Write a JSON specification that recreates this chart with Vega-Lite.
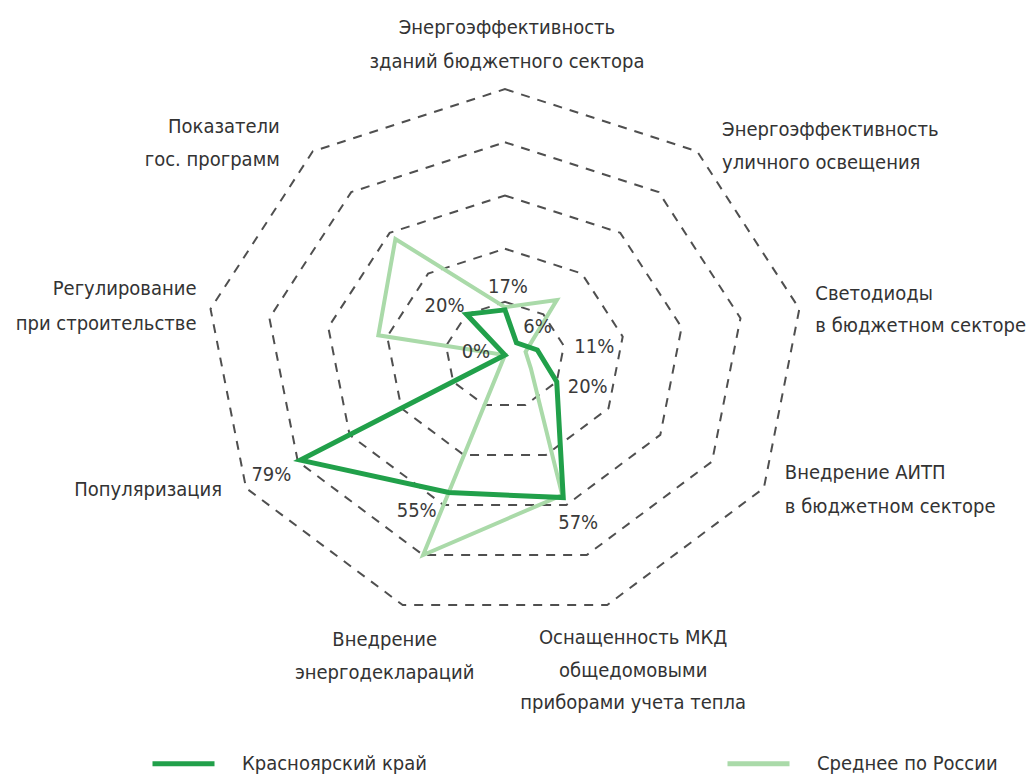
{
  "$schema": "https://vega.github.io/schema/vega-lite/v6.json",
  "width": 1035,
  "height": 774,
  "autosize": "none",
  "padding": 0,
  "background": "white",
  "config": {"view": {"stroke": null}, "font": "Liberation Sans Narrow, DejaVu Sans Condensed, Liberation Sans"},
  "datasets": {
    "axes": [
      {"k": 0, "name": "Энергоэффективность\nзданий бюджетного сектора"},
      {"k": 1, "name": "Энергоэффективность\nуличного освещения"},
      {"k": 2, "name": "Светодиоды\nв бюджетном секторе"},
      {"k": 3, "name": "Внедрение АИТП\nв бюджетном секторе"},
      {"k": 4, "name": "Оснащенность МКД\nобщедомовыми\nприборами учета тепла"},
      {"k": 5, "name": "Внедрение\nэнергодеклараций"},
      {"k": 6, "name": "Популяризация"},
      {"k": 7, "name": "Регулирование\nпри строительстве"},
      {"k": 8, "name": "Показатели\nгос. программ"}
    ],
    "rings": [
      {"level": 20, "k": [0, 1, 2, 3, 4, 5, 6, 7, 8]},
      {"level": 40, "k": [0, 1, 2, 3, 4, 5, 6, 7, 8]},
      {"level": 60, "k": [0, 1, 2, 3, 4, 5, 6, 7, 8]},
      {"level": 80, "k": [0, 1, 2, 3, 4, 5, 6, 7, 8]},
      {"level": 100, "k": [0, 1, 2, 3, 4, 5, 6, 7, 8]}
    ],
    "scores": [
      {"series": "Красноярский край", "k": 0, "axis": "Энергоэффективность зданий бюджетного сектора", "value": 17},
      {"series": "Красноярский край", "k": 1, "axis": "Энергоэффективность уличного освещения", "value": 6},
      {"series": "Красноярский край", "k": 2, "axis": "Светодиоды в бюджетном секторе", "value": 11},
      {"series": "Красноярский край", "k": 3, "axis": "Внедрение АИТП в бюджетном секторе", "value": 20},
      {"series": "Красноярский край", "k": 4, "axis": "Оснащенность МКД общедомовыми приборами учета тепла", "value": 57},
      {"series": "Красноярский край", "k": 5, "axis": "Внедрение энергодеклараций", "value": 55},
      {"series": "Красноярский край", "k": 6, "axis": "Популяризация", "value": 79},
      {"series": "Красноярский край", "k": 7, "axis": "Регулирование при строительстве", "value": 0},
      {"series": "Красноярский край", "k": 8, "axis": "Показатели гос. программ", "value": 20},
      {"series": "Среднее по России", "k": 0, "axis": "Энергоэффективность зданий бюджетного сектора", "value": 18},
      {"series": "Среднее по России", "k": 1, "axis": "Энергоэффективность уличного освещения", "value": 27},
      {"series": "Среднее по России", "k": 2, "axis": "Светодиоды в бюджетном секторе", "value": 7},
      {"series": "Среднее по России", "k": 3, "axis": "Внедрение АИТП в бюджетном секторе", "value": 10},
      {"series": "Среднее по России", "k": 4, "axis": "Оснащенность МКД общедомовыми приборами учета тепла", "value": 56},
      {"series": "Среднее по России", "k": 5, "axis": "Внедрение энергодеклараций", "value": 80},
      {"series": "Среднее по России", "k": 6, "axis": "Популяризация", "value": 0},
      {"series": "Среднее по России", "k": 7, "axis": "Регулирование при строительстве", "value": 43},
      {"series": "Среднее по России", "k": 8, "axis": "Показатели гос. программ", "value": 57}
    ]
  },
  "layer": [
    {
      "data": {"name": "rings"},
      "transform": [
        {"flatten": ["k"]},
        {"calculate": "datum.level * sin(datum.k * 2 * PI / 9)", "as": "px"},
        {"calculate": "datum.level * cos(datum.k * 2 * PI / 9)", "as": "py"}
      ],
      "mark": {"type": "line", "interpolate": "linear-closed", "stroke": "#4f4f4f", "strokeWidth": 2, "strokeDash": [9, 8]},
      "encoding": {
        "x": {"field": "px", "type": "quantitative", "scale": {"domain": [-168.9, 177.3], "nice": false, "zero": false}, "axis": null},
        "y": {"field": "py", "type": "quantitative", "scale": {"domain": [-157.5, 133.5], "nice": false, "zero": false}, "axis": null},
        "detail": {"field": "level", "type": "nominal"},
        "order": {"field": "k", "type": "quantitative"}
      }
    },
    {
      "data": {"name": "scores"},
      "transform": [
        {"calculate": "datum.value * sin(datum.k * 2 * PI / 9)", "as": "px"},
        {"calculate": "datum.value * cos(datum.k * 2 * PI / 9)", "as": "py"}
      ],
      "encoding": {
        "x": {"field": "px", "type": "quantitative", "scale": {"domain": [-168.9, 177.3], "nice": false, "zero": false}, "axis": null},
        "y": {"field": "py", "type": "quantitative", "scale": {"domain": [-157.5, 133.5], "nice": false, "zero": false}, "axis": null},
        "order": {"field": "k", "type": "quantitative"},
        "color": {
          "field": "series", "type": "nominal",
          "scale": {"domain": ["Красноярский край", "Среднее по России"], "range": ["#21a04a", "#aadaa9"]},
          "legend": {
            "orient": "none", "legendX": 150, "legendY": 730, "direction": "horizontal", "title": null,
            "symbolType": "stroke", "symbolSize": 3844, "symbolStrokeWidth": 5,
            "labelFontSize": 20, "labelColor": "#333333", "labelOffset": 25, "labelLimit": 400, "columnPadding": 290
          }
        }
      },
      "layer": [
        {"transform": [{"filter": "datum.series == 'Среднее по России'"}], "mark": {"type": "line", "interpolate": "linear-closed", "strokeWidth": 4}},
        {"transform": [{"filter": "datum.series == 'Красноярский край'"}], "mark": {"type": "line", "interpolate": "linear-closed", "strokeWidth": 5}}
      ]
    },
    {
      "data": {"name": "scores"},
      "transform": [
        {"filter": "datum.series == 'Красноярский край'"},
        {"calculate": "datum.value * sin(datum.k * 2 * PI / 9)", "as": "px"},
        {"calculate": "datum.value * cos(datum.k * 2 * PI / 9)", "as": "py"},
        {"calculate": "datum.value + '%'", "as": "label"}
      ],
      "encoding": {
        "x": {"field": "px", "type": "quantitative", "scale": {"domain": [-168.9, 177.3], "nice": false, "zero": false}, "axis": null},
        "y": {"field": "py", "type": "quantitative", "scale": {"domain": [-157.5, 133.5], "nice": false, "zero": false}, "axis": null},
        "text": {"field": "label", "type": "nominal"}
      },
      "layer": [
        {"transform": [{"filter": "datum.k == 0"}], "mark": {"type": "text", "fontSize": 20, "color": "#3a3a3a", "align": "center", "baseline": "middle", "dx": 3, "dy": -23}},
        {"transform": [{"filter": "datum.k == 1"}], "mark": {"type": "text", "fontSize": 20, "color": "#3a3a3a", "align": "center", "baseline": "middle", "dx": 21, "dy": -16}},
        {"transform": [{"filter": "datum.k == 2"}], "mark": {"type": "text", "fontSize": 20, "color": "#3a3a3a", "align": "center", "baseline": "middle", "dx": 57, "dy": -3}},
        {"transform": [{"filter": "datum.k == 3"}], "mark": {"type": "text", "fontSize": 20, "color": "#3a3a3a", "align": "center", "baseline": "middle", "dx": 31, "dy": 5}},
        {"transform": [{"filter": "datum.k == 4"}], "mark": {"type": "text", "fontSize": 20, "color": "#3a3a3a", "align": "center", "baseline": "middle", "dx": 15, "dy": 25}},
        {"transform": [{"filter": "datum.k == 5"}], "mark": {"type": "text", "fontSize": 20, "color": "#3a3a3a", "align": "center", "baseline": "middle", "dx": -32, "dy": 18}},
        {"transform": [{"filter": "datum.k == 6"}], "mark": {"type": "text", "fontSize": 20, "color": "#3a3a3a", "align": "center", "baseline": "middle", "dx": -29, "dy": 15}},
        {"transform": [{"filter": "datum.k == 7"}], "mark": {"type": "text", "fontSize": 20, "color": "#3a3a3a", "align": "center", "baseline": "middle", "dx": -29, "dy": -3}},
        {"transform": [{"filter": "datum.k == 8"}], "mark": {"type": "text", "fontSize": 20, "color": "#3a3a3a", "align": "center", "baseline": "middle", "dx": -22, "dy": -8}}
      ]
    },
    {
      "data": {"name": "axes"},
      "transform": [
        {"calculate": "100 * sin(datum.k * 2 * PI / 9)", "as": "px"},
        {"calculate": "100 * cos(datum.k * 2 * PI / 9)", "as": "py"}
      ],
      "encoding": {
        "x": {"field": "px", "type": "quantitative", "scale": {"domain": [-168.9, 177.3], "nice": false, "zero": false}, "axis": null},
        "y": {"field": "py", "type": "quantitative", "scale": {"domain": [-157.5, 133.5], "nice": false, "zero": false}, "axis": null},
        "text": {"field": "name", "type": "nominal"}
      },
      "layer": [
        {"transform": [{"filter": "datum.k == 0"}], "mark": {"type": "text", "fontSize": 20, "lineHeight": 34, "lineBreak": "\n", "color": "#333333", "align": "center", "baseline": "middle", "dx": 2, "dy": -61}},
        {"transform": [{"filter": "datum.k == 1"}], "mark": {"type": "text", "fontSize": 20, "lineHeight": 33, "lineBreak": "\n", "color": "#333333", "align": "left", "baseline": "middle", "dx": 25, "dy": -21}},
        {"transform": [{"filter": "datum.k == 2"}], "mark": {"type": "text", "fontSize": 20, "lineHeight": 32, "lineBreak": "\n", "color": "#333333", "align": "left", "baseline": "middle", "dx": 16, "dy": -14.5}},
        {"transform": [{"filter": "datum.k == 3"}], "mark": {"type": "text", "fontSize": 20, "lineHeight": 34, "lineBreak": "\n", "color": "#333333", "align": "left", "baseline": "middle", "dx": 21, "dy": -15}},
        {"transform": [{"filter": "datum.k == 4"}], "mark": {"type": "text", "fontSize": 20, "lineHeight": 32.5, "lineBreak": "\n", "color": "#333333", "align": "center", "baseline": "middle", "dx": 26, "dy": 33}},
        {"transform": [{"filter": "datum.k == 5"}], "mark": {"type": "text", "fontSize": 20, "lineHeight": 33, "lineBreak": "\n", "color": "#333333", "align": "center", "baseline": "middle", "dx": -18, "dy": 35}},
        {"transform": [{"filter": "datum.k == 6"}], "mark": {"type": "text", "fontSize": 20, "lineHeight": 34, "lineBreak": "\n", "color": "#333333", "align": "right", "baseline": "middle", "dx": -24, "dy": 2}},
        {"transform": [{"filter": "datum.k == 7"}], "mark": {"type": "text", "fontSize": 20, "lineHeight": 35, "lineBreak": "\n", "color": "#333333", "align": "right", "baseline": "middle", "dx": -14, "dy": -19.5}},
        {"transform": [{"filter": "datum.k == 8"}], "mark": {"type": "text", "fontSize": 20, "lineHeight": 33, "lineBreak": "\n", "color": "#333333", "align": "right", "baseline": "middle", "dx": -33, "dy": -24.5}}
      ]
    }
  ]
}
